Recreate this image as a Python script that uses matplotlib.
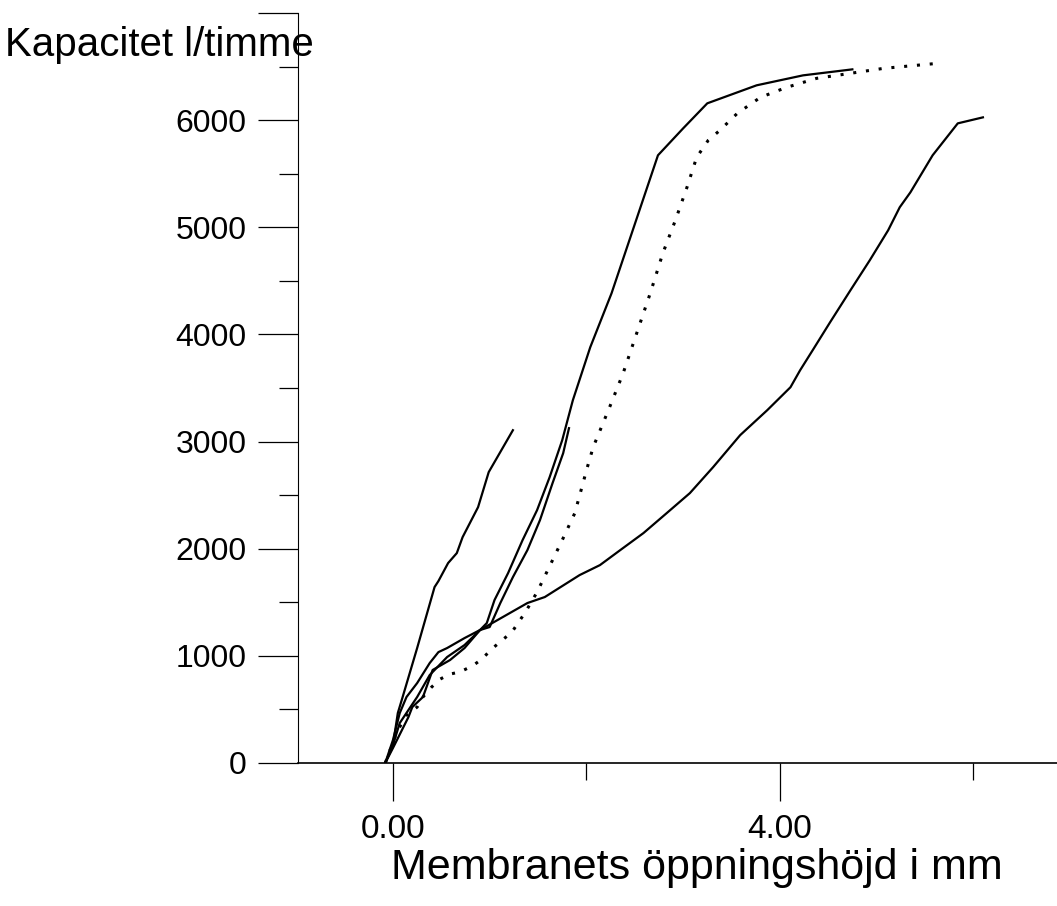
import numpy as np
import matplotlib.pyplot as plt
from matplotlib.ticker import MultipleLocator, FixedLocator

plt.rcParams['font.family'] = ['Liberation Sans', 'DejaVu Sans']

# steep short curve
xa = [-0.08, 0.0, 0.05, 0.10, 0.25, 0.43, 0.47, 0.57, 0.66, 0.72, 0.88, 0.99, 1.24]
ya = [0, 168, 466, 616, 1073, 1642, 1698, 1866, 1959, 2108, 2388, 2715, 3106]

# short curve ending near 3100
xb = [-0.08, 0.0, 0.16, 0.20, 0.31, 0.41, 0.59, 0.74, 0.90, 1.00, 1.11, 1.24, 1.39, 1.52, 1.65, 1.76, 1.82]
yb = [0, 140, 429, 522, 616, 868, 961, 1073, 1241, 1269, 1493, 1735, 1987, 2267, 2612, 2892, 3125]

# solid curve reaching ~6470
xc = [-0.08, 0.0, 0.07, 0.25, 0.38, 0.56, 0.74, 0.90, 0.97, 1.05, 1.19, 1.34, 1.49, 1.62, 1.75,
      1.86, 2.04, 2.26, 2.74, 3.00, 3.25, 3.76, 4.24, 4.75]
yc = [0, 168, 373, 616, 821, 989, 1101, 1241, 1306, 1521, 1772, 2080, 2360, 2668, 3013,
      3386, 3881, 4384, 5672, 5923, 6157, 6325, 6418, 6474]

# dotted curve
xd = [-0.08, 0.04, 0.14, 0.25, 0.31, 0.40, 0.49, 0.59, 0.69, 0.82, 0.92, 1.02, 1.13, 1.23, 1.37,
      1.49, 1.60, 1.75, 1.88, 2.01, 2.07, 2.24, 2.38, 2.52, 2.66, 2.79, 2.92, 3.04, 3.14, 3.26,
      3.38, 3.56, 3.80, 4.07, 4.38, 4.73, 5.07, 5.63]
yd = [0, 289, 448, 522, 616, 709, 784, 830, 849, 905, 970, 1063, 1147, 1222, 1409,
      1595, 1800, 2080, 2332, 2761, 2948, 3321, 3638, 4011, 4384, 4757, 5065, 5373, 5653, 5812,
      5905, 6063, 6213, 6306, 6390, 6437, 6483, 6530]

# long curve to the right
xe = [-0.08, 0.0, 0.07, 0.14, 0.25, 0.38, 0.47, 0.56, 0.74, 0.90, 1.39, 1.57, 1.93, 2.14, 2.35,
      2.59, 2.83, 3.07, 3.31, 3.59, 3.87, 4.11, 4.21, 4.34, 4.52, 4.73, 4.93, 5.12, 5.24, 5.35,
      5.58, 5.84, 6.10]
ye = [0, 215, 466, 616, 746, 933, 1035, 1073, 1166, 1241, 1493, 1549, 1754, 1847, 1987,
      2146, 2332, 2519, 2761, 3060, 3293, 3507, 3666, 3853, 4114, 4412, 4692, 4972, 5187, 5326,
      5672, 5970, 6026]

yticks = [0, 1000, 2000, 3000, 4000, 5000, 6000, 7000]
ylabels = ['0', '1000', '2000', '3000', '4000', '5000', '6000', '']
xticks = [0, 4]
xlabels = ['0.00', '4.00']

fig = plt.figure(figsize=(10.57, 9.06), dpi=100)
ax = fig.add_axes([298/1057, 143/906, 759/1057, 750/906])

for x, y in ((xa, ya), (xb, yb), (xc, yc), (xe, ye)):
    ax.plot(x, y, color='black', lw=1.6, solid_joinstyle='round')
ax.plot(xd, yd, color='black', lw=2.2, linestyle=(0, (1, 3.2)))

ax.set_xlim(-0.982, 6.866)
ax.set_ylim(0, 7000)
ax.spines['top'].set_visible(False)
ax.spines['right'].set_visible(False)
ax.spines['left'].set_linewidth(0.8)
ax.spines['bottom'].set_linewidth(1.2)

ax.yaxis.set_major_locator(FixedLocator(yticks))
ax.set_yticklabels(ylabels)
ax.yaxis.set_minor_locator(MultipleLocator(500))
ax.xaxis.set_major_locator(FixedLocator(xticks))
ax.set_xticklabels(xlabels)
ax.xaxis.set_minor_locator(FixedLocator([2, 6]))

ax.tick_params(axis='y', which='major', length=29, width=0.9, pad=8, labelsize=23)
ax.tick_params(axis='y', which='minor', length=14, width=0.9)
ax.tick_params(axis='x', which='major', length=27, width=0.9, pad=10, labelsize=24)
ax.tick_params(axis='x', which='minor', length=12, width=0.9)

ax.set_xlabel('Membranets öppningshöjd i mm', fontsize=31, labelpad=0)
ax.xaxis.set_label_coords(0.526, -0.113)
fig.text(5/1057, 1 - 56/906, 'Kapacitet l/timme', fontsize=29, ha='left', va='baseline')

fig.savefig('out.png', dpi=100)
